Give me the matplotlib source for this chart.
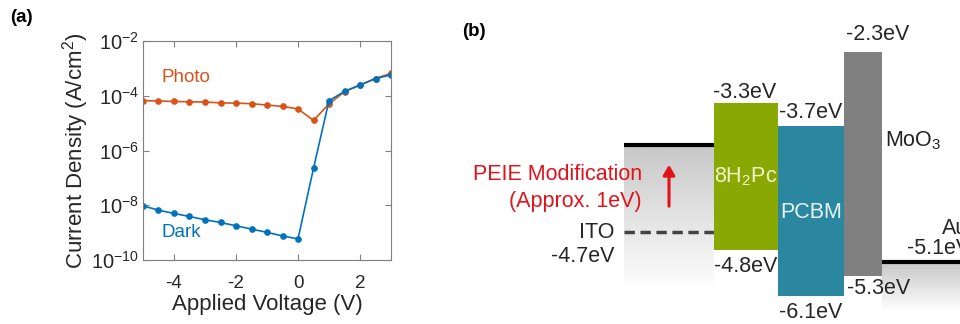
import numpy as np
import matplotlib
matplotlib.use("Agg")
import matplotlib.pyplot as plt
from matplotlib.patches import Rectangle

plt.rcParams['font.family'] = ['Liberation Sans', 'DejaVu Sans']
plt.rcParams['mathtext.fontset'] = 'custom'
plt.rcParams['mathtext.rm'] = 'Liberation Sans'
plt.rcParams['mathtext.it'] = 'Liberation Sans'
plt.rcParams['axes.unicode_minus'] = False

# ---- panel (a) data: J-V curves (log10 of A/cm^2) ----
voltage = [-5, -4.5, -4, -3.5, -3, -2.5, -2, -1.5, -1, -0.5, 0, 0.5, 1, 1.5, 2, 2.5, 3]
log_photo = [-4.18, -4.19, -4.21, -4.22, -4.23, -4.26, -4.27, -4.29, -4.34, -4.39,
             -4.48, -4.90, -4.30, -3.85, -3.61, -3.37, -3.18]
log_dark = [-8.02, -8.18, -8.30, -8.41, -8.53, -8.63, -8.75, -8.87, -8.99, -9.12,
            -9.23, -6.65, -4.18, -3.84, -3.61, -3.37, -3.24]
ytick_exp = [-10, -8, -6, -4, -2]
xticks = [-4, -2, 0, 2]

# ---- panel (b) data: energy levels (schematic, not to scale) ----
materials = ["8H$_2$Pc", "PCBM", "MoO$_3$"]
lumo_labels = ["-3.3eV", "-3.7eV", "-2.3eV"]
homo_labels = ["-4.8eV", "-6.1eV", "-5.3eV"]
col_edges = [274, 338, 404, 442]       # schematic column edges
lumo_draw = [103, 126, 52]             # schematic level heights
homo_draw = [250, 296, 276]
band_colors = ["#8aa804", "#2b87a0", "#808080"]
text_colors = ["#f4f4cc", "#e6f4f8", "#222222"]

c_photo = "#d95319"
c_dark = "#0072bd"
txt = "#262626"

fig = plt.figure(figsize=(9.6, 3.24), dpi=100)

# ================= (a) =================
ax = fig.add_axes([143 / 960, 1 - 260 / 324, 248 / 960, 219 / 324])
ax.plot(voltage, 10.0 ** np.array(log_photo), "-o", color=c_photo, lw=1.2, ms=3.8)
ax.plot(voltage, 10.0 ** np.array(log_dark), "-o", color=c_dark, lw=1.2, ms=3.8)
ax.set_yscale("log")
ax.set_xlim(-5, 3)
ax.set_ylim(1e-10, 1e-2)
ax.set_yticks([10.0 ** e for e in ytick_exp])
ax.set_yticklabels([r"$10^{%d}$" % e for e in ytick_exp])
ax.yaxis.set_minor_locator(matplotlib.ticker.NullLocator())
ax.set_xticks(xticks)
ax.tick_params(direction="in", top=True, right=True, length=4, width=0.8,
               color="#7f7f7f", labelcolor=txt)
ax.tick_params(axis="x", labelsize=13.5, pad=11)
ax.tick_params(axis="y", labelsize=14.5, pad=3)
for s in ax.spines.values():
    s.set_color("#7f7f7f")
    s.set_linewidth(0.8)
ax.set_xlabel("Applied Voltage (V)", fontsize=16, color=txt, labelpad=1)
ax.set_ylabel("Current Density (A/cm$^2$)", fontsize=16, color=txt, labelpad=0)
ax.text(-4.4, 10 ** -3.32, "Photo", color=c_photo, fontsize=13.5, va="center")
ax.text(-4.4, 10 ** -9.0, "Dark", color=c_dark, fontsize=13.5, va="center")
fig.text(10 / 960, 1 - 17 / 324, "(a)", fontsize=13.5, fontweight="bold", va="center")

# ================= (b) =================
bx = fig.add_axes([440 / 960, 0, 520 / 960, 1])
bx.set_xlim(0, 520)
bx.set_ylim(324, 0)
bx.axis("off")

grad = np.linspace(0.78, 1.0, 100)[:, None]
bx.imshow(np.repeat(grad, 2, axis=1), cmap="gray", vmin=0, vmax=1, aspect="auto",
          extent=(184, 274, 292, 145), interpolation="bilinear", zorder=0)
bx.imshow(np.repeat(grad, 2, axis=1), cmap="gray", vmin=0, vmax=1, aspect="auto",
          extent=(442, 520, 312, 262), interpolation="bilinear", zorder=0)

fs = 15.5
# ITO levels
bx.plot([184, 274], [145, 145], color="black", lw=3, solid_capstyle="butt")
bx.plot([184, 274], [232, 232], color="#444444", lw=2.5, ls=(0, (3, 1.6)))
bx.text(174, 233, "ITO", ha="right", va="center", fontsize=fs, color=txt)
bx.text(174, 257, "-4.7eV", ha="right", va="center", fontsize=fs, color=txt)

# Au level (cut at the right edge, as in the original figure)
bx.plot([442, 520], [262, 262], color="black", lw=3, solid_capstyle="butt")
bx.text(502, 228, "Au", ha="left", va="center", fontsize=fs, color=txt)
bx.text(467, 249, "-5.1eV", ha="left", va="center", fontsize=fs, color=txt)

for i, name in enumerate(materials):
    x0, x1 = col_edges[i], col_edges[i + 1]
    bx.add_patch(Rectangle((x0, lumo_draw[i]), x1 - x0, homo_draw[i] - lumo_draw[i],
                           color=band_colors[i], lw=0, zorder=2))

bx.text(305, 92, lumo_labels[0], ha="center", va="center", fontsize=fs, color=txt)
bx.text(371, 113, lumo_labels[1], ha="center", va="center", fontsize=fs, color=txt)
bx.text(438, 35, lumo_labels[2], ha="center", va="center", fontsize=fs, color=txt)
bx.text(306, 177, materials[0], ha="center", va="center", fontsize=fs, color=text_colors[0])
bx.text(371, 212, materials[1], ha="center", va="center", fontsize=fs, color=text_colors[1])
bx.text(445, 141, materials[2], ha="left", va="center", fontsize=fs, color=text_colors[2])
bx.text(274, 267, homo_labels[0], ha="left", va="center", fontsize=fs, color=txt)
bx.text(371, 313, homo_labels[1], ha="center", va="center", fontsize=fs, color=txt)
bx.text(407, 288, homo_labels[2], ha="left", va="center", fontsize=fs, color=txt)

# PEIE annotation
red = "#e2121a"
bx.text(202, 174, "PEIE Modification", ha="right", va="center", fontsize=fs, color=red)
bx.text(202, 201, "(Approx. 1eV)", ha="right", va="center", fontsize=fs, color=red)
bx.annotate("", xy=(229, 162), xytext=(229, 209),
            arrowprops=dict(arrowstyle="-|>,head_width=0.35,head_length=0.6",
                            color=red, lw=2.2))
fig.text(462 / 960, 1 - 32 / 324, "(b)", fontsize=13.5, fontweight="bold", va="center")

fig.savefig("out.png", dpi=100)
